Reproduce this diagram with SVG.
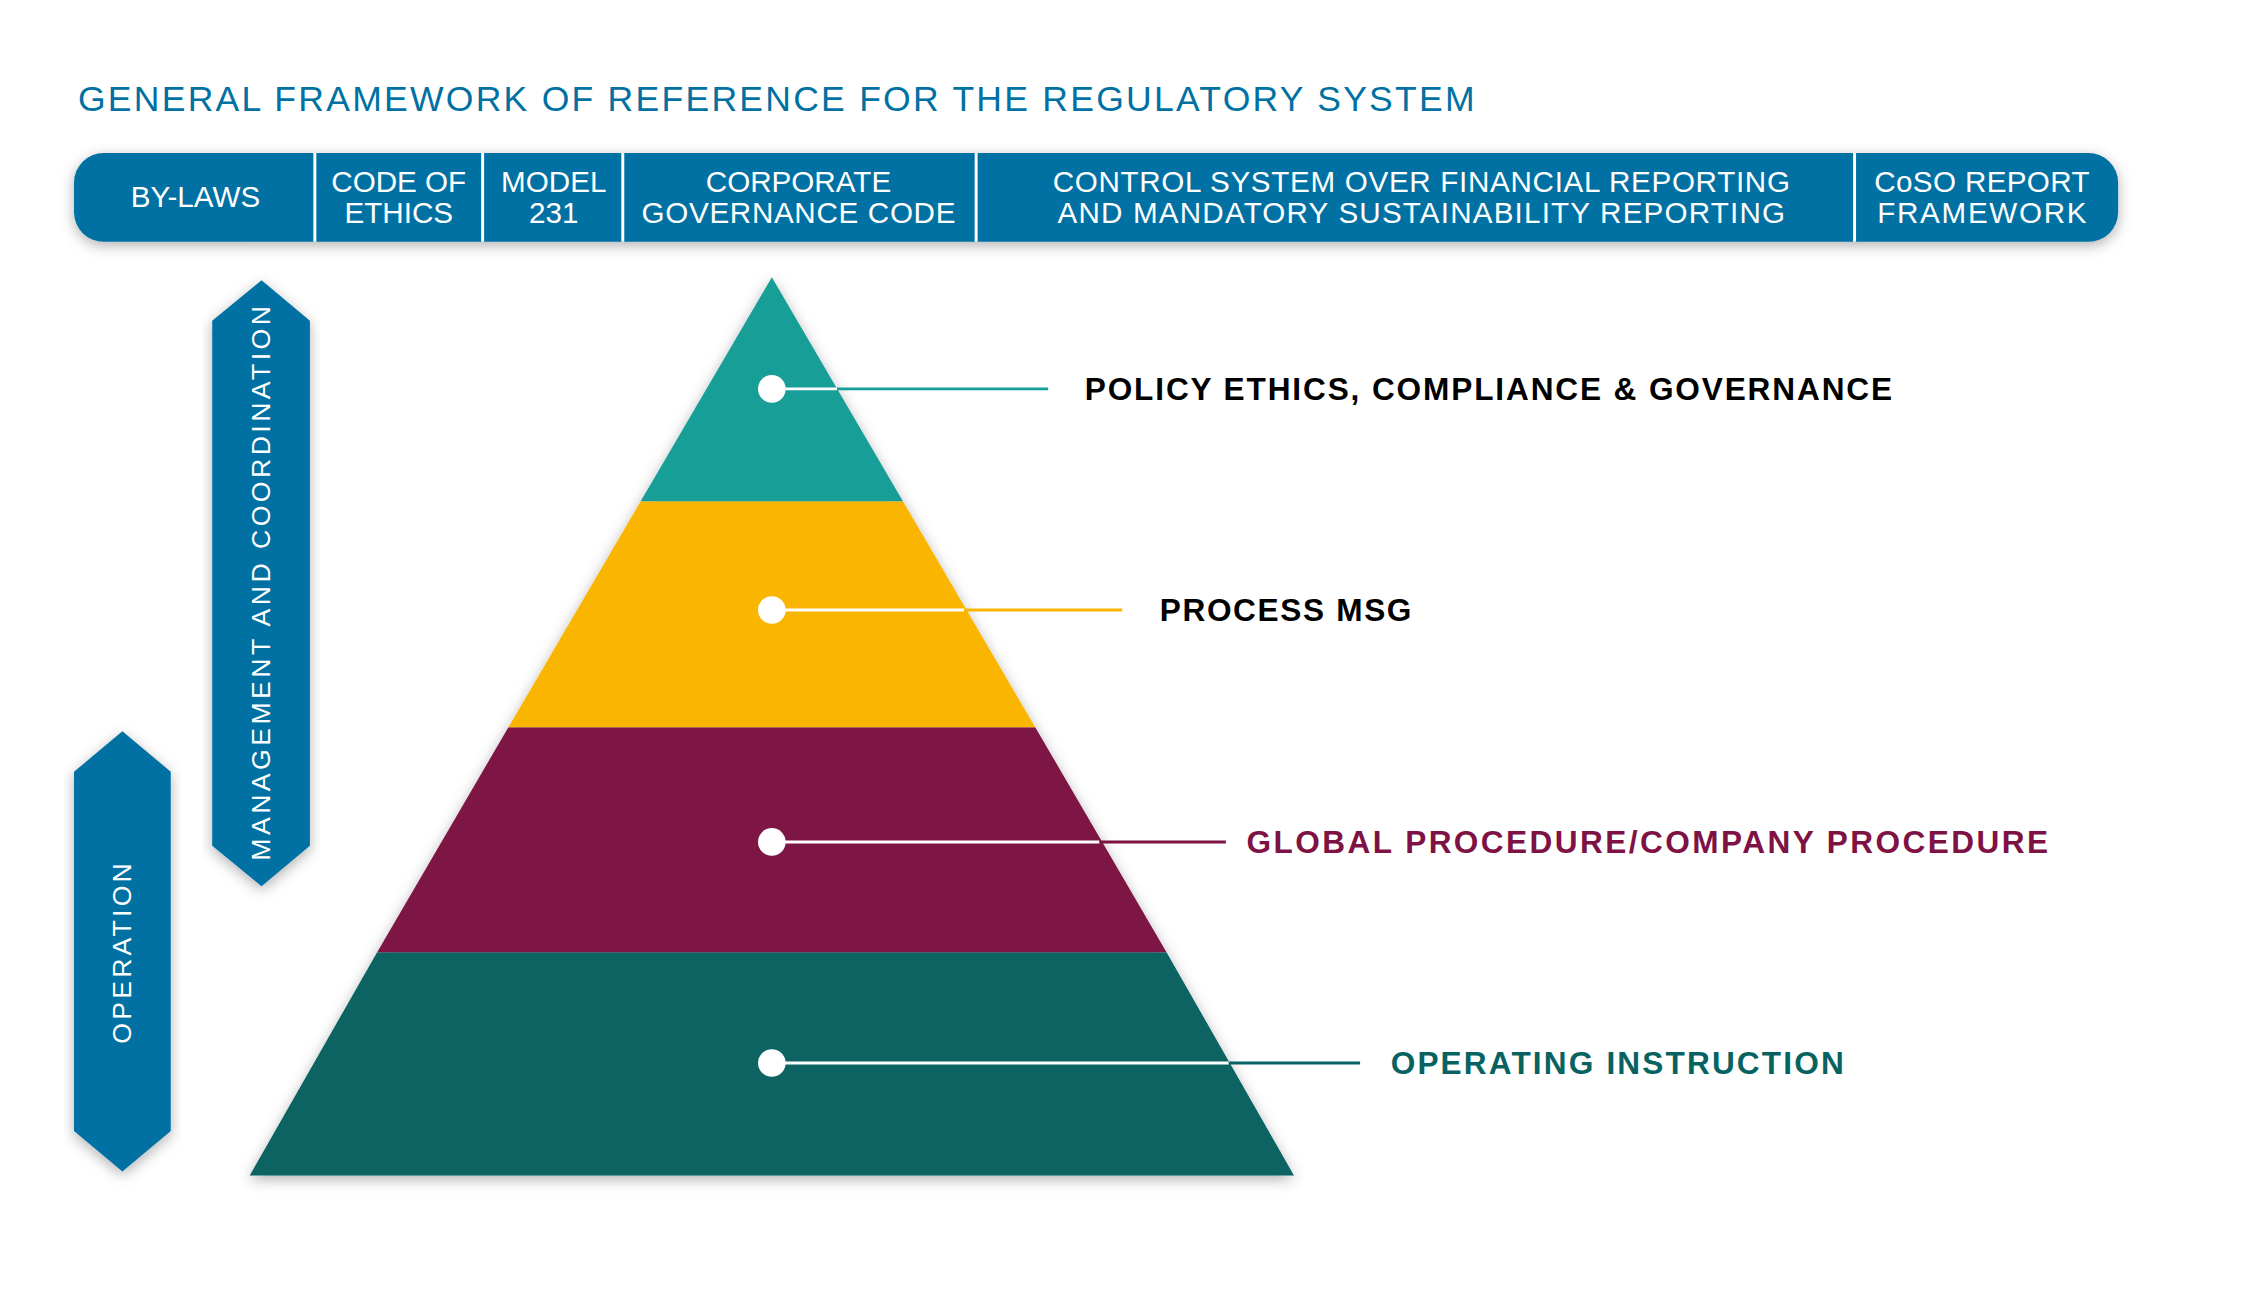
<svg xmlns="http://www.w3.org/2000/svg" width="2263" height="1290" viewBox="0 0 2263 1290">
<style>
.bt{font-family:"Liberation Sans",Arial,sans-serif;font-size:30px;fill:#fff;text-anchor:middle}
.lbl{font-family:"Liberation Sans",Arial,sans-serif;font-size:32px;font-weight:bold}
.dv{stroke:#fff;stroke-width:3}
.dot{fill:#fff}
.vt{font-family:"Liberation Sans",Arial,sans-serif;font-size:27px;fill:#fff;text-anchor:middle}
</style>
<defs>
<filter id="sh" x="-10%" y="-10%" width="120%" height="130%"><feDropShadow dx="0" dy="4" stdDeviation="7" flood-color="#000" flood-opacity="0.3"/></filter>
</defs>
<rect width="2263" height="1290" fill="#fff"/>
<g transform="scale(0.987)">
<text x="79" y="112" font-family="Liberation Sans,Arial,sans-serif" font-size="36" fill="#0071a2" textLength="1415">GENERAL FRAMEWORK OF REFERENCE FOR THE REGULATORY SYSTEM</text>
<g id="bar">
<rect x="75" y="155" width="2071" height="90" rx="30" fill="#0071a2" filter="url(#sh)"/>
<line class="dv" x1="319" y1="155" x2="319" y2="245"/>
<line class="dv" x1="489" y1="155" x2="489" y2="245"/>
<line class="dv" x1="631" y1="155" x2="631" y2="245"/>
<line class="dv" x1="989" y1="155" x2="989" y2="245"/>
<line class="dv" x1="1879" y1="155" x2="1879" y2="245"/>
<text class="bt" x="198" y="210">BY-LAWS</text>
<text class="bt" x="404" y="195">CODE OF</text><text class="bt" x="404" y="226">ETHICS</text>
<text class="bt" x="561" y="195">MODEL</text><text class="bt" x="561" y="226">231</text>
<text class="bt" x="809" y="195">CORPORATE</text><text class="bt" x="809" y="226" textLength="318">GOVERNANCE CODE</text>
<text class="bt" x="1440" y="195" textLength="747">CONTROL SYSTEM OVER FINANCIAL REPORTING</text>
<text class="bt" x="1440" y="226" textLength="737">AND MANDATORY SUSTAINABILITY REPORTING</text>
<text class="bt" x="2008" y="195" textLength="218">CoSO REPORT</text><text class="bt" x="2008" y="226" textLength="212">FRAMEWORK</text>
</g>
<g id="arrow-management">
<polygon points="265,284 314,325 314,857 265,898 215,857 215,325" fill="#0071a2" filter="url(#sh)"/>
<text class="vt" transform="translate(274,591) rotate(-90)" textLength="562">MANAGEMENT AND COORDINATION</text>
</g>
<g id="arrow-operation">
<polygon points="124,741 173,782 173,1146 124,1187 75,1146 75,782" fill="#0071a2" filter="url(#sh)"/>
<text class="vt" transform="translate(133,966) rotate(-90)" textLength="183">OPERATION</text>
</g>
<g id="pyramid" filter="url(#sh)">
<polygon points="782,281 915,508 649,508" fill="#159e97"/>
<polygon points="649,508 915,508 1049,737 515,737" fill="#f9b500"/>
<polygon points="515,737 1049,737 1182,965 382,965" fill="#7e1244"/>
<polygon points="382,965 1182,965 1311,1191 253,1191" fill="#076262"/>
</g>
<g id="connectors" stroke-width="3">
<line x1="782" y1="394" x2="848" y2="394" stroke="#fff"/><line x1="848" y1="394" x2="1062" y2="394" stroke="#159e97"/>
<line x1="782" y1="618" x2="977" y2="618" stroke="#fff"/><line x1="977" y1="618" x2="1137" y2="618" stroke="#f9b500"/>
<line x1="782" y1="853" x2="1114" y2="853" stroke="#fff"/><line x1="1114" y1="853" x2="1242" y2="853" stroke="#7e1244"/>
<line x1="782" y1="1077" x2="1245" y2="1077" stroke="#fff"/><line x1="1245" y1="1077" x2="1378" y2="1077" stroke="#076262"/>
<circle class="dot" cx="782" cy="394" r="14"/>
<circle class="dot" cx="782" cy="618" r="14"/>
<circle class="dot" cx="782" cy="853" r="14"/>
<circle class="dot" cx="782" cy="1077" r="14"/>
</g>
<g id="label-policy"><text class="lbl" x="1099" y="405" fill="#000" textLength="818">POLICY ETHICS, COMPLIANCE &amp; GOVERNANCE</text></g>
<g id="label-process"><text class="lbl" x="1175" y="629" fill="#000" textLength="255">PROCESS MSG</text></g>
<g id="label-global"><text class="lbl" x="1263" y="864" fill="#7e1244" textLength="812">GLOBAL PROCEDURE/COMPANY PROCEDURE</text></g>
<g id="label-operating"><text class="lbl" x="1409" y="1088" fill="#076262" textLength="459">OPERATING INSTRUCTION</text></g>
</g>
</svg>
